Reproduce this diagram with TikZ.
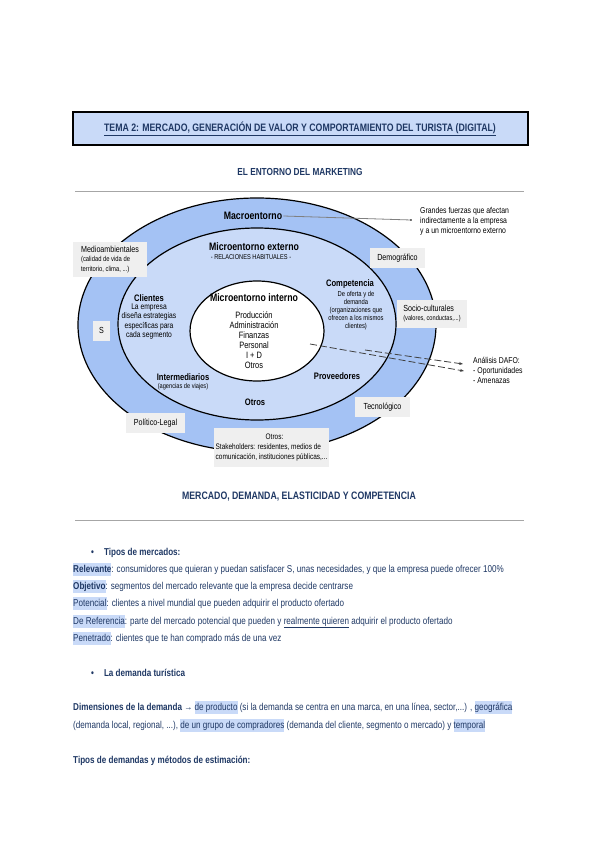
\documentclass[tikz,border=0pt]{standalone}
\usepackage{fontspec}
\setmainfont{Liberation Sans}[FakeStretch=0.81]
\usepackage{tikz}
\usetikzlibrary{arrows.meta, positioning}
\usepackage{xcolor}
\definecolor{navyText}{HTML}{1F3864}
\definecolor{ringOuter}{HTML}{A4C2F4}
\definecolor{ringMid}{HTML}{C9DAF8}
\definecolor{boxGray}{HTML}{EFEFEF}
\definecolor{ruleGray}{HTML}{A6A6A6}
\newcommand{\resalta}[1]{{\setlength{\fboxsep}{0pt}\colorbox{ringMid}{\rule[-3.5pt]{0pt}{12.5pt}#1}}}
\newcommand{\tam}[2]{\fontsize{#1}{#2}\selectfont}

\begin{document}
\begin{tikzpicture}[
    x=1pt, y=-1pt,
    titlebox/.style={draw, line width=2pt, fill=ringMid, minimum width=455, minimum height=33,
                     text=navyText, font=\bfseries\tam{10.8}{13}},
    heading/.style={text=navyText, font=\bfseries\tam{10.8}{13}},
    ringlabel/.style={font=\bfseries\tam{10.8}{12}, inner sep=1pt},
    partlabel/.style={font=\bfseries\tam{9.4}{11}, inner sep=1pt},
    subtext/.style={font=\tam{7}{8}, align=center, inner sep=1pt},
    graybox/.style={fill=boxGray, inner sep=2pt, align=left, font=\tam{8.8}{10}},
    sidenote/.style={anchor=west, align=left, inner sep=0pt, font=\tam{8.5}{10}},
    bodyline/.style={anchor=base west, inner sep=0pt, text=navyText, font=\tam{10}{12}},
  ]
  \useasboundingbox (0,0) rectangle (600,848);

  % cabecera
  \node[titlebox] (tema) at (300,128.5)
    {\underline{TEMA 2: MERCADO, GENERACIÓN DE VALOR Y COMPORTAMIENTO DEL TURISTA (DIGITAL)}};
  \node[heading, font=\bfseries\tam{10.2}{12}] (entorno) at (300,172) {EL ENTORNO DEL MARKETING};
  \draw[ruleGray, line width=1pt] (75,191) -- (524,191);

  % anillos
  \draw[line width=1.2pt, fill=ringOuter] (257,325) ellipse [x radius=179, y radius=127];
  \draw[line width=1.2pt, fill=ringMid] (257,324) ellipse [x radius=139, y radius=96];
  \draw[line width=1.2pt, fill=white] (257,331) ellipse [x radius=67, y radius=50];

  \node[ringlabel] (macro) at (253,216) {Macroentorno};
  \node[ringlabel] (microExt) at (254,247) {Microentorno externo};
  \node[subtext] (habituales) at (251,257) {- RELACIONES HABITUALES -};
  \node[ringlabel] (microInt) at (254,298) {Microentorno interno};
  \node[subtext, font=\tam{9.2}{10}] (areas) at (254,340.5)
    {Producción\\Administración\\Finanzas\\Personal\\I + D\\Otros};

  \node[partlabel] (clientes) at (149,298) {Clientes};
  \node[subtext, font=\tam{8.3}{9.2}] (clientesTxt) at (149,321.5)
    {La empresa\\diseña estrategias\\específicas para\\cada segmento};
  \node[partlabel] (competencia) at (350,284) {Competencia};
  \node[subtext, font=\tam{7.2}{8.1}] (competenciaTxt) at (356,310.5)
    {De oferta y de\\demanda\\(organizaciones que\\ofrecen a los mismos\\clientes)};
  \node[partlabel] (intermediarios) at (183,377) {Intermediarios};
  \node[subtext] (agencias) at (183,386.5) {(agencias de viajes)};
  \node[partlabel] (proveedores) at (337,376) {Proveedores};
  \node[partlabel] (otrosMicro) at (255,402) {Otros};

  % fuerzas del macroentorno
  \node[graybox, minimum width=74, minimum height=35] (medamb) at (110,259.5)
    {Medioambientales\\[-1pt]{\tam{7.2}{8.5}(calidad de vida de}\\{\tam{7.2}{8.5}territorio, clima, ...)}};
  \node[graybox, minimum width=17, minimum height=20, align=center] (ese) at (101.5,330.5) {S};
  \node[graybox, minimum width=55, minimum height=20, align=center] (demografico) at (397.5,258) {Demográfico};
  \node[graybox, minimum width=70, minimum height=28] (socio) at (432,314)
    {Socio-culturales\\[-1pt]{\tam{7}{8.5}(valores, conductas,...)}};
  \node[graybox, minimum width=55, minimum height=20, align=center] (tecnologico) at (382.5,407) {Tecnológico};
  \node[graybox, minimum width=59, minimum height=20, align=center] (politico) at (155.5,423) {Político-Legal};
  \node[graybox, minimum width=113, minimum height=39, align=left, font=\tam{8}{10}] (otrosMacro) at (271.5,447.5)
    {\hspace*{50pt}Otros:\\Stakeholders: residentes, medios de\\comunicación, instituciones públicas,...};

  % notas laterales
  \node[sidenote] (fuerzas) at (420,221.5)
    {Grandes fuerzas que afectan\\indirectamente a la empresa\\y a un microentorno externo};
  \coordinate (punto) at (411,220);
  \draw[black!50, line width=0.8pt] (macro.east) -- (punto);
  \fill (punto) circle (0.9);

  \node[sidenote] (dafo) at (473,370)
    {Análisis DAFO:\\- Oportunidades\\- Amenazas};
  \coordinate (dafoIni1) at (310,344);
  \coordinate (dafoFin1) at (464,371);
  \coordinate (dafoIni2) at (365,350);
  \coordinate (dafoFin2) at (463,364);
  \draw[-{Stealth[length=4pt]}, black!75, line width=0.8pt, dash pattern=on 7pt off 3pt] (dafoIni1) -- (dafoFin1);
  \draw[-{Stealth[length=4pt]}, black!75, line width=0.8pt, dash pattern=on 7pt off 3pt] (dafoIni2) -- (dafoFin2);

  % mercado y demanda
  \node[heading] (mercado) at (299,497) {MERCADO, DEMANDA, ELASTICIDAD Y COMPETENCIA};
  \draw[ruleGray, line width=1pt] (75,520) -- (524,520);

  \node[bodyline, font=\bfseries\tam{10}{12}] (tipos) at (91,555) {•\hspace{10pt}Tipos de mercados:};
  \node[bodyline] (relevante) at (73,572)
    {\resalta{\textbf{Relevante}}: consumidores que quieran y puedan satisfacer S, unas necesidades, y que la empresa puede ofrecer 100\%};
  \node[bodyline] (objetivo) at (73,589)
    {\resalta{\textbf{Objetivo}}: segmentos del mercado relevante que la empresa decide centrarse};
  \node[bodyline] (potencial) at (73,606)
    {\resalta{Potencial}: clientes a nivel mundial que pueden adquirir el producto ofertado};
  \node[bodyline] (referencia) at (73,624)
    {\resalta{De Referencia}: parte del mercado potencial que pueden y \underline{realmente quieren} adquirir el producto ofertado};
  \node[bodyline] (penetrado) at (73,641)
    {\resalta{Penetrado}: clientes que te han comprado más de una vez};

  \node[bodyline, font=\bfseries\tam{10}{12}] (demanda) at (91,676) {•\hspace{10pt}La demanda turística};
  \node[bodyline] (dimensiones) at (73,710)
    {\textbf{Dimensiones de la demanda →} \resalta{de producto} (si la demanda se centra en una marca, en una línea, sector,...) , \resalta{geográfica}};
  \node[bodyline] (dimensiones2) at (73,728)
    {(demanda local, regional, ...), \resalta{de un grupo de compradores} (demanda del cliente, segmento o mercado) y \resalta{temporal}};
  \node[bodyline, font=\bfseries\tam{10}{12}] (estimacion) at (73,763) {Tipos de demandas y métodos de estimación:};
\end{tikzpicture}
\end{document}
